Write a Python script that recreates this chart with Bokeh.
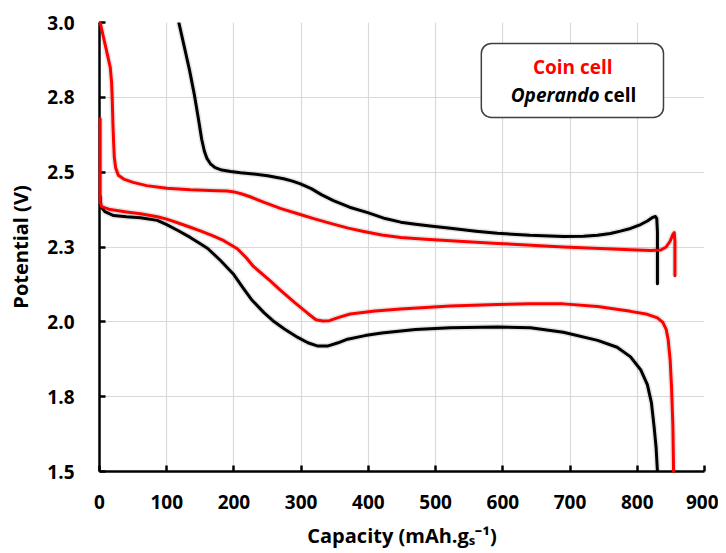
from bokeh.plotting import figure
from bokeh.models import FixedTicker, BoxAnnotation, Label
from bokeh.embed import file_html
from bokeh.resources import INLINE

# ---- data ----
coin_charge_x = [1, 5, 9, 13, 16, 18, 19, 20, 21, 22, 24, 28, 36, 50, 70, 100, 135, 175, 190, 200, 212,
                 225, 245, 270, 295, 320, 345, 370, 393, 420, 448, 485, 522, 592, 690, 745, 790, 820,
                 835, 843, 849, 853, 855, 856, 856]
coin_charge_y = [3.0, 2.96, 2.92, 2.88, 2.85, 2.80, 2.74, 2.66, 2.60, 2.55, 2.515, 2.49, 2.477, 2.466,
                 2.455, 2.446, 2.441, 2.438, 2.437, 2.434, 2.427, 2.417, 2.399, 2.378, 2.361, 2.344,
                 2.328, 2.313, 2.302, 2.29, 2.282, 2.276, 2.271, 2.262, 2.25, 2.245, 2.241, 2.238,
                 2.240, 2.25, 2.27, 2.292, 2.298, 2.27, 2.154]

coin_dis_x = [1, 1, 3, 16, 40, 61, 86, 100, 116, 135, 150, 168, 185, 205, 218, 229, 254, 269, 290, 310,
              322, 332, 342, 356, 373, 410, 448, 522, 592, 640, 690, 741, 790, 815, 830, 838, 843, 846,
              849, 851, 853, 854]
coin_dis_y = [2.679, 2.40, 2.385, 2.375, 2.367, 2.361, 2.351, 2.343, 2.331, 2.316, 2.304, 2.288, 2.271,
              2.244, 2.215, 2.185, 2.137, 2.106, 2.065, 2.028, 2.007, 2.003, 2.004, 2.015, 2.026, 2.036,
              2.043, 2.053, 2.058, 2.06, 2.06, 2.051, 2.035, 2.025, 2.013, 1.998, 1.975, 1.94, 1.87,
              1.78, 1.65, 1.50]

op_charge_x = [118, 126, 134, 141, 147, 152, 156, 160, 165, 172, 182, 195, 210, 225, 250, 274, 287, 299,
               315, 330, 348, 372, 399, 425, 448, 470, 492, 522, 560, 592, 640, 690, 720, 741, 760,
               775, 790, 805, 815, 822, 827, 829, 830, 830]
op_charge_y = [3.0, 2.92, 2.84, 2.76, 2.68, 2.61, 2.57, 2.545, 2.528, 2.515, 2.507, 2.502, 2.498, 2.495,
               2.488, 2.478, 2.47, 2.461, 2.445, 2.425, 2.405, 2.383, 2.365, 2.345, 2.333, 2.326, 2.320,
               2.313, 2.303, 2.296, 2.289, 2.285, 2.286, 2.289, 2.295, 2.303, 2.312, 2.325, 2.337,
               2.348, 2.352, 2.345, 2.30, 2.127]

op_dis_x = [1, 2, 8, 21, 40, 61, 86, 100, 116, 135, 150, 161, 180, 199, 213, 227, 245, 260, 275, 295,
            310, 325, 339, 355, 369, 395, 420, 470, 522, 592, 641, 690, 741, 770, 790, 805, 815, 821,
            825, 828, 830]
op_dis_y = [2.42, 2.385, 2.368, 2.355, 2.351, 2.348, 2.339, 2.325, 2.306, 2.282, 2.261, 2.245, 2.205,
            2.16, 2.115, 2.072, 2.03, 2.00, 1.976, 1.948, 1.93, 1.919, 1.919, 1.93, 1.942, 1.954,
            1.963, 1.974, 1.98, 1.983, 1.98, 1.965, 1.938, 1.915, 1.883, 1.84, 1.79, 1.73, 1.65,
            1.58, 1.50]

x_ticks = [0, 100, 200, 300, 400, 500, 600, 700, 800, 900]
y_ticks = [1.5, 1.75, 2.0, 2.25, 2.5, 2.75, 3.0]
y_tick_labels = ["1.5", "1.8", "2.0", "2.3", "2.5", "2.8", "3.0"]

legend_coin = "Coin cell"
legend_op_italic = "Operando"
legend_op_rest = "cell"

FONT = "Open Sans"

p = figure(width=718, height=553, output_backend="svg", toolbar_location=None,
           x_range=(0, 900), y_range=(1.5, 3.0),
           min_border_left=99, min_border_right=14, min_border_top=22, min_border_bottom=82)
p.outline_line_color = None
p.background_fill_color = "white"
p.border_fill_color = "white"

for ax in (p.xaxis, p.yaxis):
    ax.axis_line_width = 2.5
    ax.axis_line_color = "black"
    ax.major_tick_in = 6
    ax.major_tick_out = 0
    ax.major_tick_line_width = 2.5
    ax.major_tick_line_color = "black"
    ax.minor_tick_line_color = None
    ax.major_label_text_font = FONT
    ax.major_label_text_font_style = "bold"
    ax.major_label_text_font_size = "19px"
    ax.major_label_text_color = "black"
    ax.axis_label_text_font = FONT
    ax.axis_label_text_font_style = "bold"
    ax.axis_label_text_font_size = "20px"
    ax.axis_label_text_color = "black"

p.xaxis.ticker = FixedTicker(ticks=x_ticks)
p.yaxis.ticker = FixedTicker(ticks=y_ticks)
p.yaxis.major_label_overrides = {t: l for t, l in zip(y_ticks, y_tick_labels)}
p.xaxis.major_label_standoff = 23
p.yaxis.major_label_standoff = 25
p.xaxis.axis_label = "Capacity (mAh.gₛ⁻¹)"
p.yaxis.axis_label = "Potential (V)"
p.xaxis.axis_label_standoff = 10
p.yaxis.axis_label_standoff = 10

p.xgrid.ticker = FixedTicker(ticks=x_ticks)
p.ygrid.ticker = FixedTicker(ticks=y_ticks)
for g in (p.xgrid, p.ygrid):
    g.grid_line_color = "#d9d9d9"
    g.grid_line_width = 1.2

series = [(op_charge_x, op_charge_y, "black"), (op_dis_x, op_dis_y, "black"),
          (coin_charge_x, coin_charge_y, "#ff0000"), (coin_dis_x, coin_dis_y, "#ff0000")]

# soft shadows
for xs, ys, c in series:
    p.line(xs, ys, line_color="black", line_alpha=0.10, line_width=6, line_join="round")
for xs, ys, c in series:
    r = p.line(xs, ys, line_color=c, line_width=3, line_join="round", line_cap="round")
    if c != "black":
        r.level = "overlay"

box = BoxAnnotation(left=568, right=839, bottom=2.683, top=2.930,
                    fill_color="white", fill_alpha=1.0, line_color="#404040", line_alpha=1.0,
                    line_width=1.5, border_radius=10)
p.add_layout(box)

p.add_layout(Label(x=704, y=2.853, text=legend_coin, text_align="center", text_baseline="middle",
                   text_color="#ff0000", text_font=FONT, text_font_style="bold",
                   text_font_size="19px"))
p.add_layout(Label(x=744, y=2.759, text=legend_op_italic, text_align="right", text_baseline="middle",
                   text_color="black", text_font=FONT, text_font_style="bold italic",
                   text_font_size="19px"))
p.add_layout(Label(x=750, y=2.759, text=legend_op_rest, text_align="left", text_baseline="middle",
                   text_color="black", text_font=FONT, text_font_style="bold",
                   text_font_size="19px"))

open("out.html", "w").write(file_html(p, INLINE))
